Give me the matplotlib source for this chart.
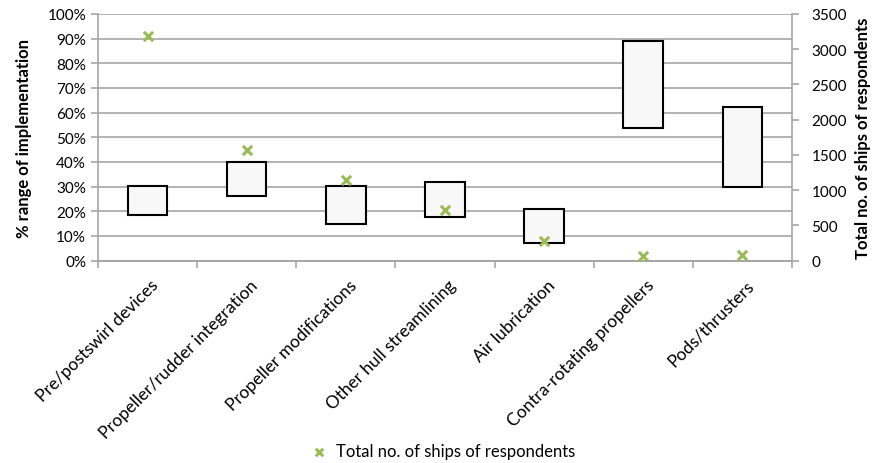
import matplotlib
matplotlib.use('Agg')
import matplotlib.pyplot as plt
from matplotlib.ticker import PercentFormatter
import numpy as np

plt.rcParams['font.family'] = ['Lato', 'DejaVu Sans']

categories = ['Pre/postswirl devices', 'Propeller/rudder integration',
              'Propeller modifications', 'Other hull streamlining',
              'Air lubrication', 'Contra-rotating propellers', 'Pods/thrusters']
range_low = [18.5, 26.3, 14.8, 17.5, 7.0, 53.8, 29.7]
range_high = [30.3, 40.1, 30.3, 31.7, 20.9, 89.2, 62.4]
ships = [3190, 1575, 1145, 720, 270, 65, 75]

x = np.arange(len(categories))
low = np.array(range_low)
high = np.array(range_high)

fig = plt.figure(figsize=(8.77, 4.64), dpi=100)
ax = fig.add_axes([0.1117, 0.4364, 0.7913, 0.5313])
ax2 = ax.twinx()

grid_col = '#a6a6a6'
ax.set_xlim(-0.5, len(categories) - 0.5)
ax.set_ylim(0, 100)
ax.set_yticks(np.arange(0, 101, 10))
ax.yaxis.set_major_formatter(PercentFormatter(decimals=0))
ax.grid(axis='y', color=grid_col, linewidth=1.2)
ax.set_axisbelow(True)

ax.bar(x, high - low, bottom=low, width=0.4, color='#f8f8f8',
       edgecolor='black', linewidth=1.5, zorder=3)

ax2.set_ylim(0, 3500)
ax2.set_yticks(np.arange(0, 3501, 500))
ax2.scatter(x, ships, marker='x', s=45, color='#9bbb59', linewidths=2.2,
            zorder=4, label='Total no. of ships of respondents')

for a in (ax, ax2):
    a.spines['top'].set_visible(False)
    for s in ('left', 'right', 'bottom'):
        a.spines[s].set_color(grid_col)
        a.spines[s].set_linewidth(1.2)
    a.tick_params(axis='y', colors=grid_col, labelcolor='black',
                  labelsize=11, length=5, width=1.2)
ax2.spines['left'].set_visible(False)
ax.spines['right'].set_visible(False)
ax2.tick_params(axis='y', pad=9)

# category boundaries carry the ticks, labels sit at the centres
ax.set_xticks(np.arange(-0.5, len(categories), 1))
ax.set_xticklabels([])
ax.tick_params(axis='x', colors=grid_col, length=5, width=1.2)
for i, name in enumerate(categories):
    ax.text(i + 0.03, -6.5, name, rotation=45, ha='right', va='top',
            rotation_mode='anchor', fontsize=12.5,
            transform=ax.transData, clip_on=False)

ax.set_ylabel('% range of implementation', fontsize=12, fontweight='bold',
              labelpad=11)
ax2.set_ylabel('Total no. of ships of respondents', fontsize=12,
               fontweight='bold', labelpad=6)

fig.legend(loc='center', bbox_to_anchor=(0.5, 0.026), frameon=False,
           fontsize=12, handletextpad=0.0, markerscale=0.8)

fig.savefig('out.png', dpi=100)
